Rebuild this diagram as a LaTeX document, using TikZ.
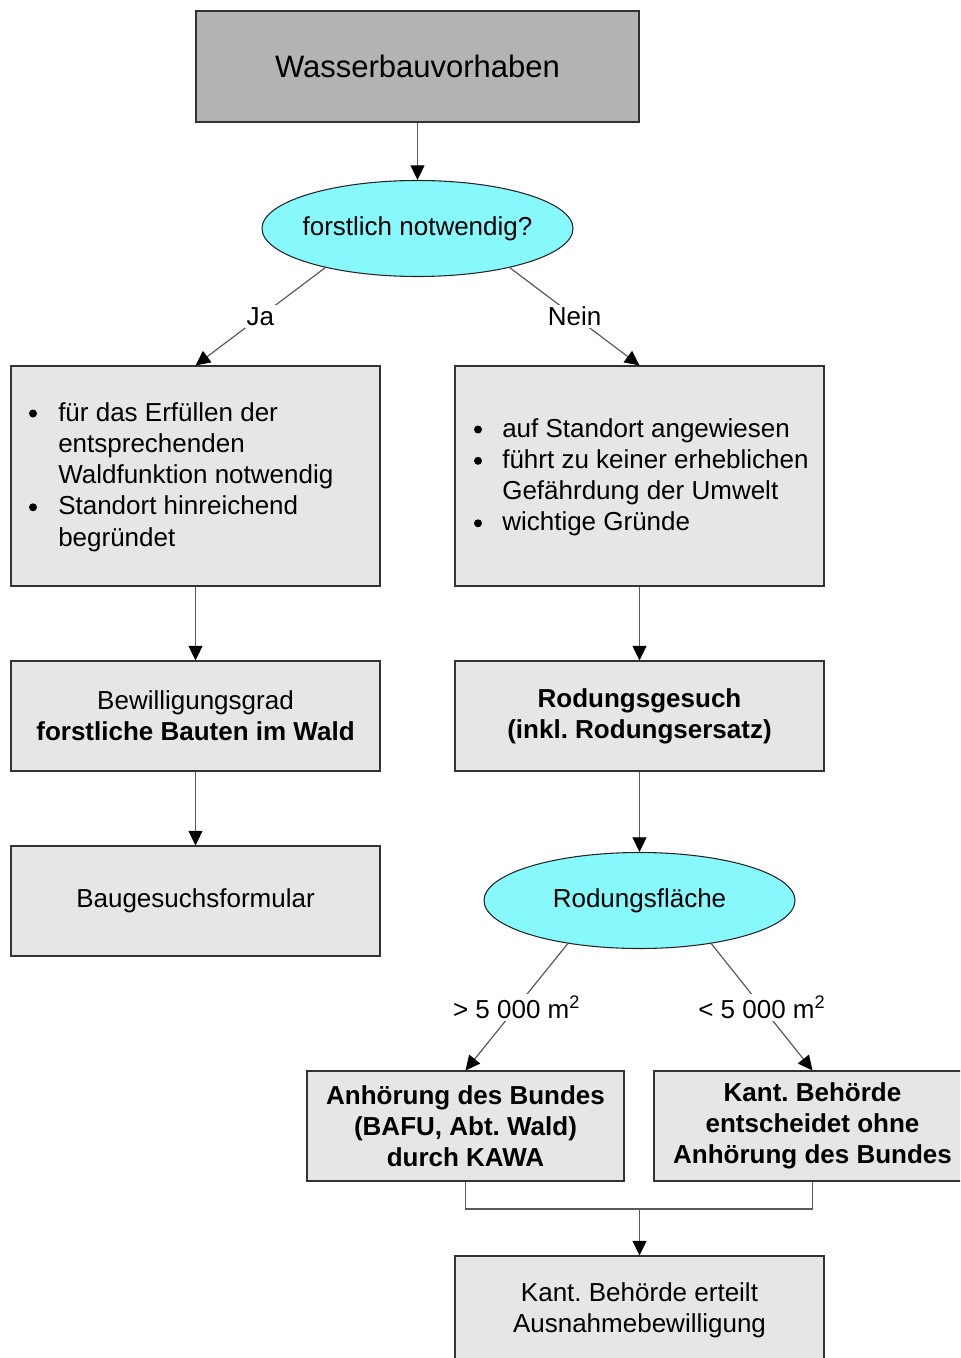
\documentclass[tikz,border=0pt]{standalone}
\usepackage{fontspec}
\setmainfont{Liberation Sans}
\usetikzlibrary{arrows.meta,shapes.geometric,calc}
\definecolor{topgray}{HTML}{B3B3B3}
\definecolor{boxgray}{HTML}{E6E6E6}
\definecolor{cyanfill}{RGB}{135,248,252}
\definecolor{linegray}{HTML}{5A5A5A}
\begin{document}
\frenchspacing
\begin{tikzpicture}[x=0.75pt,y=-0.75pt,
  boxbase/.style={draw=black!80, line width=0.8pt, fill=boxgray, inner sep=0pt},
  bigbox/.style={boxbase, minimum width=276.75pt, minimum height=165pt},
  midbox/.style={boxbase, minimum width=276.75pt, minimum height=82.5pt},
  smallbox/.style={boxbase, minimum width=237.75pt, minimum height=82.5pt},
  decision/.style={ellipse, draw=black!85, line width=0.8pt, fill=cyanfill, inner sep=0pt, minimum width=233.25pt, minimum height=72pt},
  txt/.style={font=\fontsize{19.5}{23.45}\selectfont, inner sep=0pt, align=center},
  listtxt/.style={font=\fontsize{19.5}{23.45}\selectfont, inner sep=0pt, anchor=base west},
  bulletdot/.style={fill=black},
  conn/.style={draw=linegray, line width=0.9pt, -{Triangle[length=11pt,width=10.5pt,color=black]}},
  plain/.style={draw=linegray, line width=0.9pt},
  lbl/.style={fill=white, inner sep=1.5pt, font=\fontsize{19.5}{23.45}\selectfont, text=black}
]
\useasboundingbox (0,0) rectangle (960,1358);
\clip (0,0) rectangle (960,1358);

% top box
\node[boxbase, fill=topgray, minimum width=332.25pt, minimum height=83.25pt] (top) at (417.5,66.5) {};
\node[txt, font=\fontsize{23.25}{28}\selectfont] (topT) at (417.5,66.5) {Wasserbauvorhaben};

% first decision
\node[decision] (e1) at (417.5,228.5) {};
\node[txt] (e1T) at (417.5,228.5) {forstlich notwendig?};

% left column
\node[bigbox] (L1) at (195.5,476) {};
\node[listtxt] (L1T) at (58,421) {\begin{tabular}[t]{@{}l@{}}
für das Erfüllen der\\
entsprechenden\\
Waldfunktion notwendig\\
Standort hinreichend\\
begründet
\end{tabular}};
\fill[bulletdot] (33,413.5) circle[radius=3pt];
\fill[bulletdot] (33,507.3) circle[radius=3pt];

\node[midbox] (L2) at (195.5,716) {};
\node[txt] (L2T) at (195.5,716) {Bewilligungsgrad\\\textbf{forstliche Bauten im Wald}};

\node[midbox] (L3) at (195.5,901) {};
\node[txt] (L3T) at (195.5,901) {Baugesuchsformular};

% right column
\node[bigbox] (R1) at (639.5,476) {};
\node[listtxt] (R1T) at (502,437) {\begin{tabular}[t]{@{}l@{}}
auf Standort angewiesen\\
führt zu keiner erheblichen\\
Gefährdung der Umwelt\\
wichtige Gründe
\end{tabular}};
\fill[bulletdot] (478,429.5) circle[radius=3pt];
\fill[bulletdot] (478,460.8) circle[radius=3pt];
\fill[bulletdot] (478,523.3) circle[radius=3pt];

\node[midbox] (R2) at (639.5,716) {};
\node[txt] (R2T) at (639.5,716) {\textbf{Rodungsgesuch}\\\textbf{(inkl. Rodungsersatz)}};

\node[decision] (e2) at (639.5,900.5) {};
\node[txt] (e2T) at (639.5,900.5) {Rodungsfläche};

\node[smallbox] (B1) at (465.5,1126) {};
\node[txt] (B1T) at (465.5,1126) {\textbf{Anhörung des Bundes}\\\textbf{(BAFU, Abt. Wald)}\\\textbf{durch KAWA}};

\node[smallbox] (B2) at (812.5,1126) {};
\node[txt] (B2T) at (812.5,1126) {\textbf{Kant. Behörde}\\\textbf{entscheidet ohne}\\\textbf{Anhörung des Bundes}};

\node[midbox] (bot) at (639.5,1311) {};
\node[txt] (botT) at (639.5,1310) {Kant. Behörde erteilt\\Ausnahmebewilligung};

% connectors
\draw[conn] (top.south) -- (e1.north);
\draw[conn] (e1.203) -- node[lbl] (ja) {Ja} (L1.north);
\draw[conn] (e1.337) -- node[lbl] (nein) {Nein} (R1.north);
\draw[conn] (L1.south) -- (L2.north);
\draw[conn] (L2.south) -- (L3.north);
\draw[conn] (R1.south) -- (R2.north);
\draw[conn] (R2.south) -- (e2.north);
\draw[conn] (e2.211) -- node[lbl] (gt) {> 5 000 m\textsuperscript{2}} (B1.north);
\draw[conn] (e2.329) -- node[lbl] (lt) {< 5 000 m\textsuperscript{2}} (B2.north);
\coordinate (j) at (639.5,1209);
\draw[plain] (B1.south) |- (j) -| (B2.south);
\draw[conn] (j) -- (bot.north);
\end{tikzpicture}
\end{document}
